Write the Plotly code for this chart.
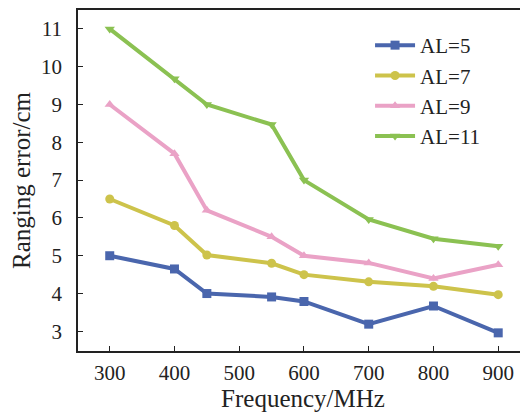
import plotly.graph_objects as go

freq = [300, 400, 450, 550, 600, 700, 800, 900]
al5 = [5.0, 4.65, 4.0, 3.91, 3.79, 3.19, 3.67, 2.96]
al7 = [6.5, 5.8, 5.02, 4.8, 4.5, 4.31, 4.19, 3.97]
al9 = [9.0, 7.7, 6.2, 5.5, 5.0, 4.81, 4.4, 4.76]
al11 = [11.0, 9.68, 9.0, 8.47, 7.0, 5.96, 5.45, 5.25]

names = ["AL=5", "AL=7", "AL=9", "AL=11"]
series = [al5, al7, al9, al11]
colors = ["#4a66ad", "#cdc34b", "#eaa2c6", "#8bc152"]
symbols = ["square", "circle", "triangle-up", "triangle-down"]

font_family = "Liberation Serif, Times New Roman, serif"

fig = go.Figure()
for n, s, c, sym in zip(names, series, colors, symbols):
    fig.add_trace(go.Scatter(
        x=freq, y=s, name=n, mode="lines+markers",
        line=dict(color=c, width=4),
        marker=dict(symbol=sym, size=9, color=c),
    ))

fig.update_layout(
    width=520, height=409,
    margin=dict(l=70, r=0, t=2, b=66),
    plot_bgcolor="white", paper_bgcolor="white",
    font=dict(family=font_family, size=21, color="#222"),
    showlegend=True,
    legend=dict(x=0.649, y=0.956, xanchor="left", yanchor="top",
                bgcolor="rgba(0,0,0,0)", font=dict(size=21),
                itemwidth=40, tracegroupgap=0),
)
fig.update_xaxes(
    range=[251, 946], tickvals=[300, 400, 500, 600, 700, 800, 900],
    showline=True, linecolor="#222", linewidth=1.5, mirror=True,
    ticks="inside", ticklen=5, tickcolor="#222", showgrid=False, zeroline=False,
    automargin=False, ticklabelstandoff=2,
    title=dict(text="Frequency/MHz", standoff=4),
)
fig.update_yaxes(
    range=[2.48, 11.5], tickvals=list(range(3, 12)),
    showline=True, linecolor="#222", linewidth=1.5,
    ticks="inside", ticklen=5, tickcolor="#222", showgrid=False, zeroline=False,
    automargin=False, ticklabelstandoff=10,
    title=dict(text="Ranging error/cm", standoff=8),
)
fig.write_html("out.html")
